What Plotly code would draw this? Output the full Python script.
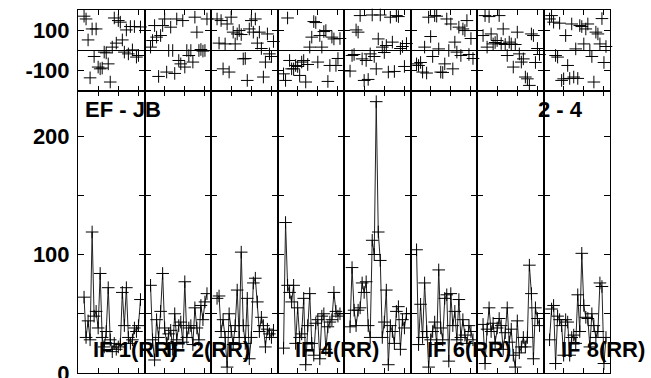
import plotly.graph_objects as go
from plotly.subplots import make_subplots

# ---------------- data ----------------
CHANNELS = list(range(3, 32))

PHASE_IF1 = [172, 158, 53, -137, 108, -30, 108, -83, -92, -88, -8, -12, -67, -158, 17, 163, 37, 150, 142, 53, -8, 103, -17, 120, 3, 120, -33, -25, 118]
PHASE_IF2 = [17, 50, 125, 67, -130, 75, 125, 158, -108, 0, 117, 0, -115, 158, -50, -67, 150, -83, 0, -25, 0, -58, 167, 92, 0, 5, -3, 0, 158]
PHASE_IF3 = [158, 37, 150, -92, 33, 133, -108, 167, 92, 33, 83, 100, 80, -42, -40, -150, 108, 150, 92, 158, 37, 92, 10, -133, -58, 83, -17, -30, 45]
PHASE_IF4 = [-117, -150, 163, -50, -92, -92, -75, -80, -125, -58, -50, -158, -70, 17, 67, 145, 140, -58, 75, 17, 95, 100, -155, -75, 67, 58, -75, -40, 60]
PHASE_IF5 = [-103, -25, -20, 103, 92, 175, -42, -150, -50, -145, -17, 178, -30, -92, 58, 178, 17, -10, 25, -108, 167, 42, -105, 175, 170, 10, 20, -80, 35]
PHASE_IF6 = [-67, -75, -60, -108, 17, -113, 167, 70, -30, 175, 172, 8, -108, -110, -67, 158, 0, 133, -92, 42, -8, 117, -25, 108, 100, 150, -20, 60, -40]
PHASE_IF7 = [75, 175, 17, 170, 83, 33, 40, 50, 175, 35, 108, 30, -25, 42, 33, -83, 30, 92, -17, -58, -42, -133, -142, -175, 83, 75, -60, 10, -20]
PHASE_IF8 = [158, 175, 142, -25, -33, 137, -150, -142, 75, -75, -140, 133, -133, 8, -140, 125, 120, 33, 108, 133, 0, -30, -158, 92, 83, 33, 160, -60, 20]

AMP_IF1 = [64, 30, 44, 28, 119, 48, 52, 38, 84, 30, 22, 35, 72, 28, 18, 25, 20, 22, 24, 68, 40, 72, 30, 25, 28, 38, 35, 40, 62]
AMP_IF2 = [74, 28, 11, 45, 30, 52, 84, 38, 25, 33, 36, 20, 50, 28, 40, 43, 26, 77, 30, 38, 40, 24, 55, 38, 28, 57, 45, 60, 67]
AMP_IF3 = [63, 65, 35, 45, 30, 5, 50, 35, 24, 40, 70, 30, 102, 40, 25, 63, 12, 30, 76, 80, 60, 35, 47, 40, 22, 37, 33, 30, 36]
AMP_IF4 = [21, 127, 74, 68, 60, 74, 25, 55, 30, 33, 63, 7, 40, 67, 25, 15, 42, 45, 12, 48, 50, 20, 39, 43, 45, 68, 52, 48, 50]
AMP_IF5 = [39, 89, 53, 40, 53, 55, 76, 68, 77, 40, 30, 112, 100, 229, 119, 95, 30, 43, 70, 7, 40, 35, 25, 52, 56, 20, 45, 38, 50]
AMP_IF6 = [104, 24, 58, 30, 76, 35, 5, 28, 35, 43, 24, 87, 38, 28, 63, 66, 10, 67, 40, 52, 28, 62, 30, 45, 32, 25, 40, 35, 28]
AMP_IF7 = [41, 8, 37, 55, 35, 42, 26, 38, 46, 40, 20, 34, 55, 26, 37, 15, 5, 44, 17, 22, 30, 22, 30, 91, 67, 12, 55, 46, 40]
AMP_IF8 = [28, 54, 57, 8, 48, 45, 40, 15, 45, 43, 15, 30, 32, 25, 66, 35, 101, 57, 47, 46, 22, 50, 40, 30, 35, 76, 73, 8, 30]

PHASES = [PHASE_IF1, PHASE_IF2, PHASE_IF3, PHASE_IF4, PHASE_IF5, PHASE_IF6, PHASE_IF7, PHASE_IF8]
AMPS = [AMP_IF1, AMP_IF2, AMP_IF3, AMP_IF4, AMP_IF5, AMP_IF6, AMP_IF7, AMP_IF8]

LABELED_IFS = [1, 2, 4, 6, 8]
LABEL_CHANNEL = [6.5, 9.5, 7.5, 7, 7.5]
BASELINE = "EF - JB"
STOKES_RANGE = "2 - 4"

PHASE_TICKS = [-100, 100]
PHASE_TICKTEXT = ["-100", "100"]
AMP_TICKS = [0, 50, 100, 150, 200]
AMP_TICKTEXT = ["0", "", "100", "", "200"]
CHAN_TICKS = [10, 20, 30]

# ---------------- figure ----------------
N_IF = len(AMPS)
fig = make_subplots(rows=2, cols=N_IF, horizontal_spacing=0, vertical_spacing=0,
                    row_heights=[81 / 363, 282 / 363])

mk = dict(symbol="cross-thin", size=9, color="black", line=dict(width=1, color="black"))
for k in range(N_IF):
    fig.add_trace(go.Scatter(x=CHANNELS, y=PHASES[k], mode="markers", marker=mk,
                             hoverinfo="skip", cliponaxis=False), row=1, col=k + 1)
    fig.add_trace(go.Scatter(x=CHANNELS, y=AMPS[k], mode="lines+markers", marker=mk,
                             line=dict(color="#222222", width=1), hoverinfo="skip"),
                  row=2, col=k + 1)

tickfont = dict(family="Liberation Sans, Arial, sans-serif", size=22, color="black", weight="bold")

fig.update_xaxes(range=[0, 33], tickvals=CHAN_TICKS, ticks="inside", ticklen=5,
                 tickcolor="black", showticklabels=False, showline=True,
                 linecolor="black", linewidth=1, mirror="ticks", showgrid=False,
                 zeroline=False, automargin=False)
fig.update_yaxes(showline=True, linecolor="black", linewidth=1, mirror="ticks",
                 ticks="inside", ticklen=6, tickcolor="black", showgrid=False,
                 tickfont=tickfont, ticklabelstandoff=3, automargin=False,
                 ticklabeloverflow="allow")
fig.update_yaxes(range=[-203, 203], tickvals=PHASE_TICKS, ticktext=PHASE_TICKTEXT,
                 zeroline=True, zerolinecolor="black", zerolinewidth=1, row=1)
fig.update_yaxes(range=[0, 238], tickvals=AMP_TICKS, ticktext=AMP_TICKTEXT,
                 zeroline=False, row=2)
for c in range(2, N_IF + 1):
    fig.update_yaxes(showticklabels=False, row=1, col=c)
    fig.update_yaxes(showticklabels=False, row=2, col=c)

afont = dict(family="Liberation Sans, Arial, sans-serif", size=22, color="black", weight="bold")
fig.add_annotation(text=BASELINE, xref="x9", yref="y9", x=2.5, y=222,
                   xanchor="left", yanchor="middle", showarrow=False, font=afont)
fig.add_annotation(text=STOKES_RANGE, xref="x16", yref="y16", x=20.5, y=222,
                   xanchor="right", yanchor="middle", showarrow=False, font=afont)
for i, ch in zip(LABELED_IFS, LABEL_CHANNEL):
    fig.add_annotation(text=f"IF {i}(RR)", xref=f"x{N_IF + i}", yref=f"y{N_IF + i}",
                       x=ch, y=20, xanchor="left", yanchor="middle",
                       showarrow=False, font=afont)

fig.update_layout(width=651, height=378, showlegend=False,
                  margin=dict(l=78, r=41, t=10, b=5, autoexpand=False),
                  plot_bgcolor="white", paper_bgcolor="white")

fig.write_html("out.html", config={"displayModeBar": False},
               post_script="document.body.style.margin='0';document.body.style.overflow='hidden';")
